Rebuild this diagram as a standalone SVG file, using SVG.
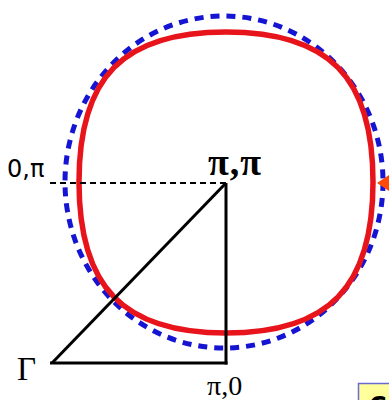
<svg xmlns="http://www.w3.org/2000/svg" width="389" height="400" viewBox="0 0 389 400">
<style>
.lbl{font-family:"Liberation Serif","Times New Roman",serif;fill:#000}
.sans{font-family:"DejaVu Sans","Liberation Sans",sans-serif;fill:#000}
.edge{stroke:#000;stroke-width:3;fill:none}
</style>
<rect width="389" height="400" fill="#fff"/>
<g id="fermi-surfaces">
<ellipse id="blue-circle" cx="224" cy="182" rx="159" ry="166" fill="none" stroke="#1414d2" stroke-width="5" stroke-dasharray="9 7"/>
<path id="red-square" d="M226,32 C329,32 373,77 373,182 C373,287 329,333 226,333 C123,333 79,287 79,182 C79,77 123,32 226,32 Z" fill="none" stroke="#e8141b" stroke-width="5.5"/>
</g>
<g id="connectors">
<line x1="50" y1="183" x2="226" y2="183" stroke="#000" stroke-width="2" stroke-dasharray="6 4"/>
<line class="edge" x1="52" y1="363" x2="226" y2="183"/>
<line class="edge" x1="226" y1="183" x2="226" y2="364.5"/>
<line class="edge" x1="50" y1="363" x2="227.5" y2="363"/>
</g>
<g id="node-gamma"><text class="lbl" x="17" y="380" font-size="33">Γ</text></g>
<g id="node-pi0"><text class="lbl" x="207" y="395" font-size="28">π,0</text></g>
<g id="node-pipi"><text class="lbl" x="208" y="175" font-size="38" font-weight="bold" letter-spacing="1">π,π</text></g>
<g id="node-0pi"><text class="sans" x="7" y="177" font-size="24">0,π</text></g>
<g id="arrow"><polygon points="377,183 389,175 389,191" fill="#ff4a0a"/></g>
<g id="note-box">
<rect x="358.5" y="383.5" width="40" height="30" fill="#ffff9c" stroke="#6a6ad0" stroke-width="1.5"/>
<text class="sans" x="369" y="414" font-size="24" font-weight="bold">C</text>
</g>
</svg>
